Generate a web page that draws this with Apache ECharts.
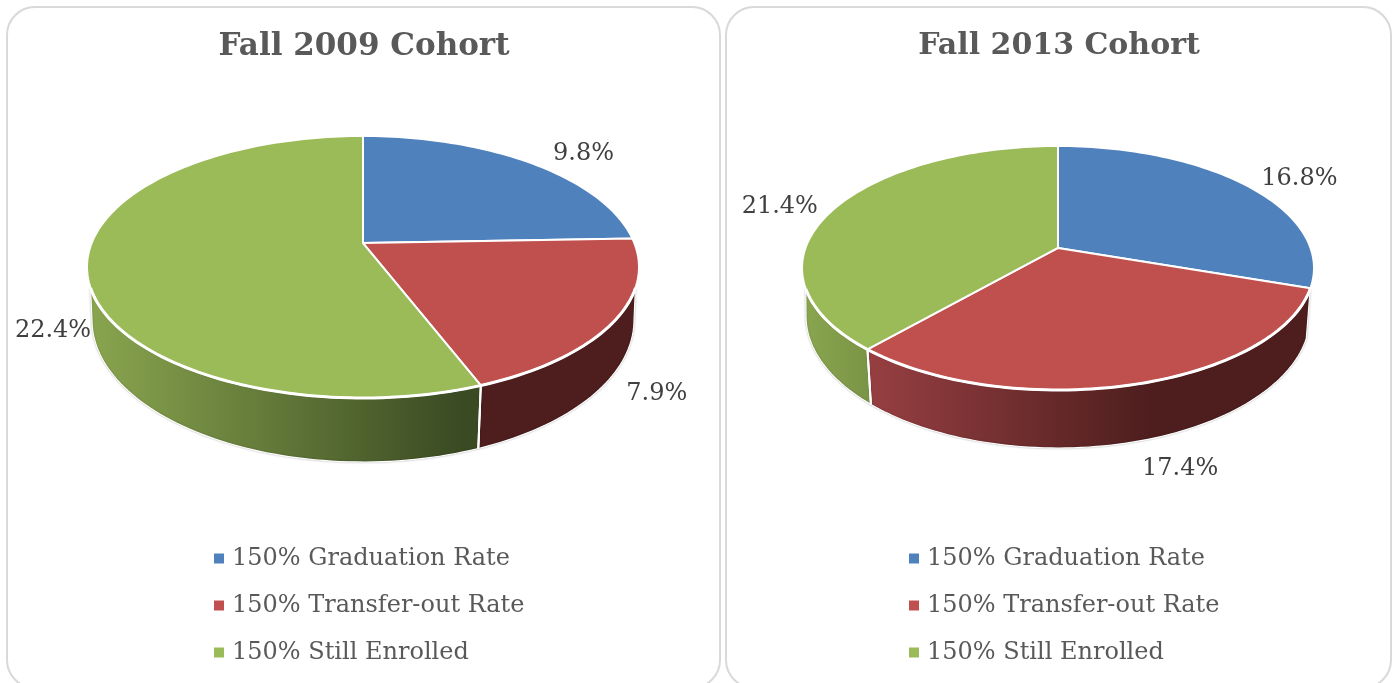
<!DOCTYPE html>
<html><head><meta charset="utf-8">
<style>html,body{margin:0;padding:0;background:#fff}#c{width:1393px;height:683px}</style>
<script src="https://cdn.jsdelivr.net/npm/echarts@6/dist/echarts.min.js"></script>
</head><body><div id="c"></div>
<script>
const categories = ['150% Graduation Rate', '150% Transfer-out Rate', '150% Still Enrolled'];
const titles = ['Fall 2009 Cohort', 'Fall 2013 Cohort'];
const cohort2009 = [9.8, 7.9, 22.4];
const cohort2013 = [16.8, 17.4, 21.4];
const colors = ['#4f81bd', '#c0504d', '#9bbb59'];
const lightWall = ['#4672a8', '#a8474a', '#8aa64f'];
const darkWall = ['#1f3550', '#4e1e1e', '#3a4a22'];

const FONT = '"DejaVu Serif"';
const LEGEND_SIZE = 24, LABEL_SIZE = 24;

const pies = [
  { values: cohort2009, x0: 87, x1: 639, titleX: 359, titleSize: 31,
    top: { cx: 363, ey: 267, rx: 276, ry: 131, q: 0.183 },
    bottom: { cx: 363, ey: 320, rx: 271, ry: 142, q: 0.18 },
    labelOffset: [[54, -9], [42, 73], [-34, 64]] },
  { values: cohort2013, x0: 802, x1: 1314, titleX: 1054, titleSize: 30,
    top: { cx: 1058, ey: 268, rx: 256, ry: 122, q: 0.164 },
    bottom: { cx: 1058, ey: 316, rx: 252, ry: 132, q: 0.16 },
    labelOffset: [[54, -6], [45, 84], [-55, -2]] }
];

// Perspective projection of a disc, angle measured clockwise from 12 o'clock
function project(plane, deg) {
  const t = deg * Math.PI / 180, u = Math.sin(t), v = -Math.cos(t);
  const k = 1 - plane.q * v, s = 1 - plane.q * plane.q;
  const A = plane.rx * Math.sqrt(s), B = plane.ry * s, cy = plane.ey - plane.ry * plane.q;
  return [plane.cx + A * u / k, cy + B * v / k];
}
function arc(plane, a, b) {
  const pts = [], n = Math.max(2, Math.ceil(Math.abs(b - a) / 1.5));
  for (let i = 0; i <= n; i++) pts.push(project(plane, a + (b - a) * i / n));
  return pts;
}
// angle at which a plane's outline turns away from the viewer
function tangentAngle(plane, ey) {
  const s = 1 - plane.q * plane.q, B = plane.ry * s, cy = plane.ey - plane.ry * plane.q;
  const d = ey - cy, v = d / (B + d * plane.q);
  return 180 - Math.acos(v) * 180 / Math.PI;
}

function makeRender(pie, catIdx) {
  return function (params, api) {
    const value = api.value(0), a = api.value(1), b = api.value(2);
    const children = [];
    const ts = tangentAngle(pie.top, pie.top.ey + 21);
    const bs = tangentAngle(pie.bottom, pie.bottom.ey);
    const ta = Math.max(a, ts), tb = Math.min(b, 360 - ts);
    const ba = Math.max(a, bs), bb = Math.min(b, 360 - bs);
    if (tb > ta && bb > ba) {
      const pts = arc(pie.top, ta, tb).concat(arc(pie.bottom, bb, ba));
      children.push({
        type: 'polygon', z2: 1, shape: { points: pts },
        style: {
          fill: new echarts.graphic.LinearGradient(pie.x0, 0, pie.x1, 0, [
            { offset: 0, color: lightWall[catIdx] },
            { offset: 0.68, color: darkWall[catIdx] },
            { offset: 1, color: darkWall[catIdx] }
          ], true),
          stroke: '#fff', lineWidth: 1.2, lineJoin: 'round',
          shadowBlur: 2, shadowColor: 'rgba(0,0,0,0.25)'
        }
      });
      // white seam down the wall and thick white rim along the visible front edge
      [a, b].forEach(edge => {
        if (edge > ts && edge < 360 - ts) {
          children.push({
            type: 'polyline', z2: 2,
            shape: { points: [project(pie.top, edge), project(pie.bottom, edge)] },
            style: { stroke: '#fff', lineWidth: 2, fill: null }
          });
        }
      });
    }
    const centre = [pie.top.cx, pie.top.ey - pie.top.ry * pie.top.q];
    children.push({
      type: 'polygon', z2: 3,
      shape: { points: [centre].concat(arc(pie.top, a, b)) },
      style: { fill: colors[catIdx], stroke: '#fff', lineWidth: 2, lineJoin: 'round' }
    });
    if (tb > ta) {
      children.push({
        type: 'polyline', z2: 4, shape: { points: arc(pie.top, ta, tb) },
        style: { stroke: '#fff', lineWidth: 3, fill: null }
      });
    }
    const rim = project(pie.top, (a + b) / 2), off = pie.labelOffset[catIdx];
    children.push({
      type: 'text', z2: 5,
      style: {
        text: value.toFixed(1) + '%', x: rim[0] + off[0], y: rim[1] + off[1],
        align: 'center', verticalAlign: 'middle',
        font: LABEL_SIZE + 'px ' + FONT, fill: '#404040'
      }
    });
    return { type: 'group', children };
  };
}

const series = [];
pies.forEach(pie => {
  const total = pie.values.reduce((s, x) => s + x, 0);
  let acc = 0;
  pie.values.forEach((val, i) => {
    const start = acc / total * 360; acc += val;
    series.push({
      type: 'custom', name: categories[i], coordinateSystem: 'none', silent: true,
      itemStyle: { color: colors[i] },
      renderItem: makeRender(pie, i),
      data: [[val, start, acc / total * 360]]
    });
  });
});

function panel(x, w) {
  return { type: 'rect', silent: true, z: -1,
    shape: { x, y: 7, width: w, height: 681, r: 28 },
    style: { fill: '#fff', stroke: '#d9d9d9', lineWidth: 2 } };
}
const legendBase = {
  orient: 'vertical', top: 540, selectedMode: false, data: categories,
  icon: 'rect', itemWidth: 10, itemHeight: 10, itemGap: 20,
  textStyle: { fontFamily: FONT, fontSize: LEGEND_SIZE, color: '#595959', padding: [0, 0, 0, 3], lineHeight: 27 }
};
const chart = echarts.init(document.getElementById('c'), null, { renderer: 'canvas' });
chart.setOption({
  animation: false,
  backgroundColor: '#fff',
  color: colors,
  graphic: { elements: [panel(7, 713), panel(726, 665)] },
  title: titles.map((t, i) => ({
    text: t, left: pies[i].titleX, top: 26, textAlign: 'center',
    textStyle: { fontFamily: FONT, fontSize: pies[i].titleSize, fontWeight: 'bold', color: '#595959' }
  })),
  legend: [Object.assign({ left: 209 }, legendBase), Object.assign({ left: 904 }, legendBase)],
  series
});
</script></body></html>
